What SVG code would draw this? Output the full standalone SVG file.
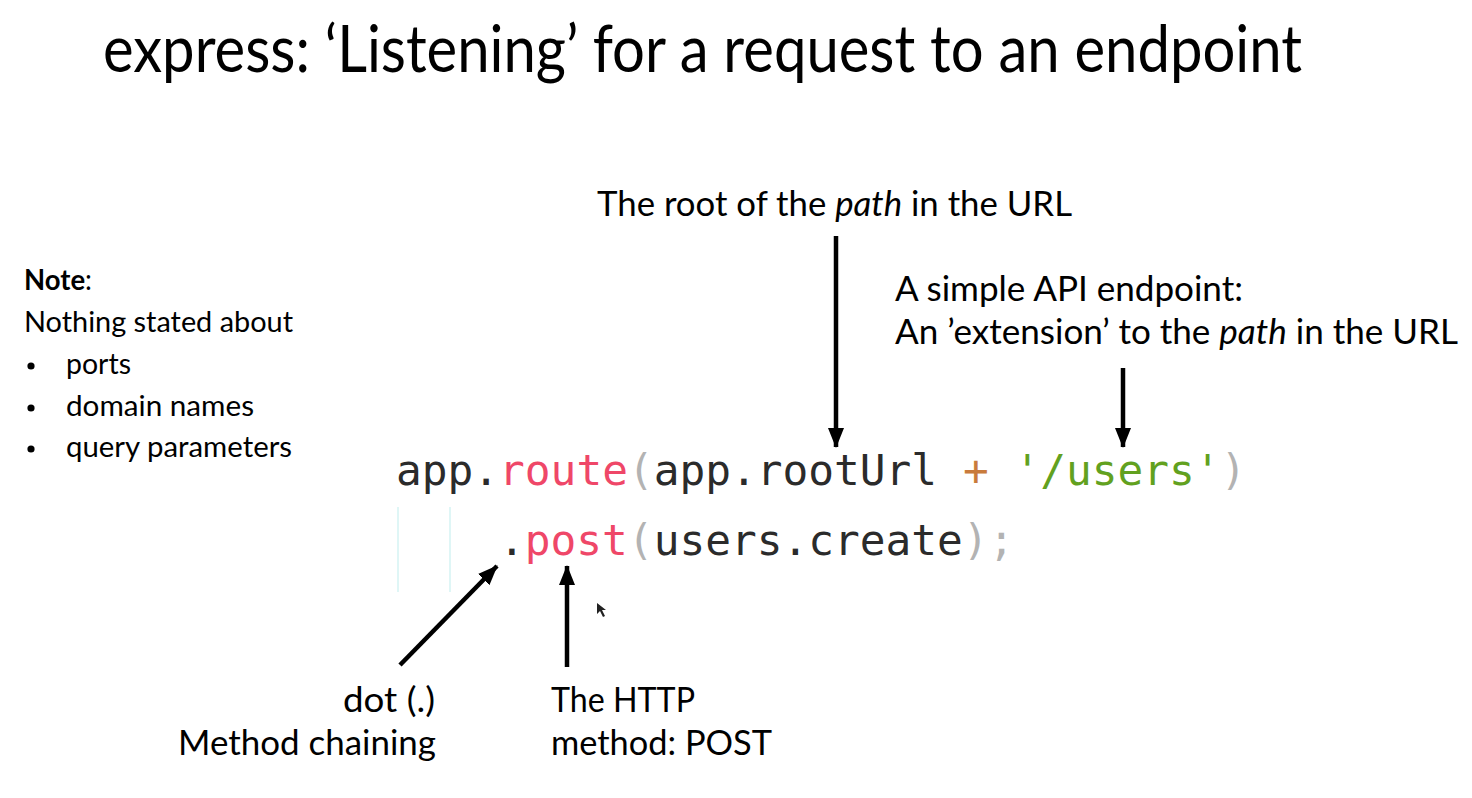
<svg xmlns="http://www.w3.org/2000/svg" width="1472" height="798" viewBox="0 0 1472 798">
  <style>
    .sans { font-family: Lato, "Open Sans", "Liberation Sans", sans-serif; fill: #000; }
    .title { font-size: 66px; }
    .label { font-size: 34px; }
    .note { font-size: 28px; }
    .code { font-family: "DejaVu Sans Mono", "Liberation Mono", monospace; font-size: 42.8px; fill: #2b2b2b; }
    .kw { fill: #ef4768; }
    .punc { fill: #b3b3b3; }
    .op { fill: #c97b3c; }
    .str { fill: #62a11f; }
    .guide { stroke: #dff6f6; stroke-width: 2; }
    .bullet { fill: #000; }
    .conn { stroke: #000; stroke-width: 4.5; fill: none; marker-end: url(#head); }
  </style>
  <defs>
    <marker id="head" markerUnits="userSpaceOnUse" markerWidth="20" markerHeight="20" viewBox="0 0 20 20" refX="19" refY="10" orient="auto">
      <path d="M0,2 L20,10 L0,18 Z" fill="#000"/>
    </marker>
  </defs>
  <rect width="1472" height="798" fill="#fff"/>

  <!-- heading -->
  <text id="title" class="sans title" x="103" y="72" textLength="1199" lengthAdjust="spacingAndGlyphs">express: ‘Listening’ for a request to an endpoint</text>

  <!-- side note -->
  <g id="note">
    <text class="sans note" x="24" y="290" textLength="68" lengthAdjust="spacingAndGlyphs"><tspan font-weight="bold">Note</tspan>:</text>
    <text class="sans note" x="24" y="332" textLength="269" lengthAdjust="spacingAndGlyphs">Nothing stated about</text>
    <circle class="bullet" cx="31" cy="366" r="3.6"/>
    <text class="sans note" x="66" y="374" textLength="65" lengthAdjust="spacingAndGlyphs">ports</text>
    <circle class="bullet" cx="31" cy="408" r="3.6"/>
    <text class="sans note" x="66" y="416" textLength="188" lengthAdjust="spacingAndGlyphs">domain names</text>
    <circle class="bullet" cx="31" cy="449" r="3.6"/>
    <text class="sans note" x="66" y="457" textLength="226" lengthAdjust="spacingAndGlyphs">query parameters</text>
  </g>

  <!-- code sample -->
  <g id="code">
    <line class="guide" x1="398" y1="507" x2="398" y2="592"/>
    <line class="guide" x1="450" y1="507" x2="450" y2="592"/>
    <text class="code" x="396" y="485">app.<tspan class="kw">route</tspan><tspan class="punc">(</tspan>app.rootUrl <tspan class="op">+</tspan> <tspan class="str">'/users'</tspan><tspan class="punc">)</tspan></text>
    <text class="code" x="499" y="555">.<tspan class="kw">post</tspan><tspan class="punc">(</tspan>users.create<tspan class="punc">);</tspan></text>
  </g>

  <!-- callout labels -->
  <g id="root-label">
    <text class="sans label" x="597" y="216" textLength="475" lengthAdjust="spacingAndGlyphs">The root of the <tspan font-style="italic">path</tspan> in the URL</text>
  </g>
  <g id="endpoint-label">
    <text class="sans label" x="895" y="301" textLength="348" lengthAdjust="spacingAndGlyphs">A simple API endpoint:</text>
    <text class="sans label" x="895" y="344" textLength="563" lengthAdjust="spacingAndGlyphs">An ’extension’ to the <tspan font-style="italic">path</tspan> in the URL</text>
  </g>
  <g id="dot-label">
    <text class="sans label" x="343" y="712" textLength="92" lengthAdjust="spacingAndGlyphs">dot (.)</text>
    <text class="sans label" x="178" y="755" textLength="258" lengthAdjust="spacingAndGlyphs">Method chaining</text>
  </g>
  <g id="method-label">
    <text class="sans label" x="551" y="712" textLength="144" lengthAdjust="spacingAndGlyphs">The HTTP</text>
    <text class="sans label" x="551" y="755" textLength="221" lengthAdjust="spacingAndGlyphs">method: POST</text>
  </g>

  <!-- connectors -->
  <g id="connectors">
    <line class="conn" x1="836" y1="236" x2="836" y2="447"/>
    <line class="conn" x1="1123" y1="368" x2="1123" y2="447"/>
    <line class="conn" x1="567" y1="667" x2="567" y2="566"/>
    <line class="conn" x1="400" y1="665" x2="497" y2="566"/>
  </g>

  <!-- pointer -->
  <path id="pointer" d="M597,603 L597,614 L600,611 L603,617 L605,616 L602,610 L606,610 Z" fill="#222"/>
</svg>
